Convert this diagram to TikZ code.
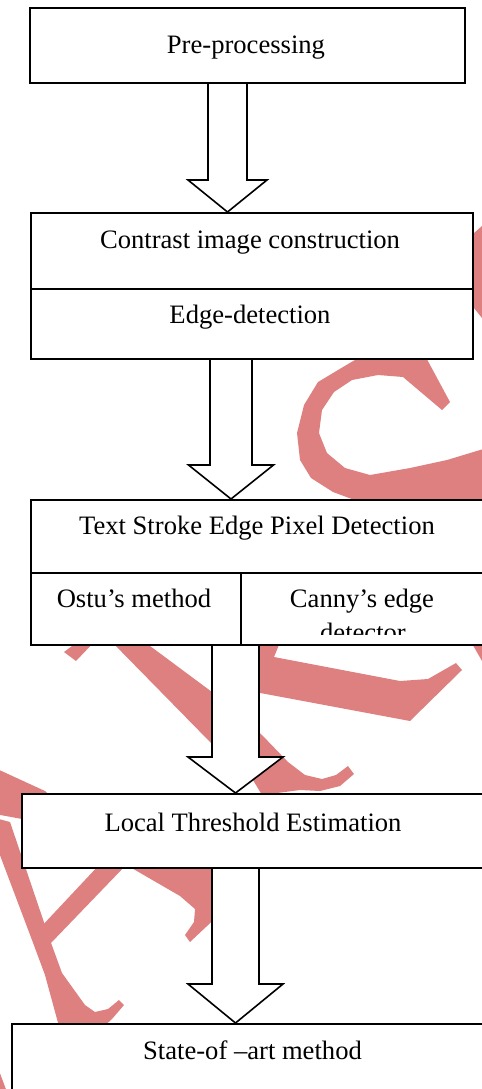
\documentclass[tikz,border=0pt]{standalone}
\usepackage{fontspec}
\setmainfont{Liberation Serif}
\usetikzlibrary{calc}
\definecolor{wmred}{RGB}{222,128,128}
\pgfdeclarelayer{marks}
\pgfdeclarelayer{arrows}
\pgfsetlayers{marks,arrows,main}
\tikzset{
  box/.style={draw, fill=white, line width=0.8pt, anchor=north west, inner sep=0pt},
  lbl/.style={anchor=base, inner sep=0pt, font=\fontsize{13.3}{17}\selectfont},
  harrow/.style={draw, fill=white, line width=0.8pt, line join=miter},
  wm/.style={fill=wmred}
}
\newcommand{\hollowarrow}[5]{%
  \draw[harrow] let \p1=(#1), \p2=(#2) in
    (\x1-#3,\y1) -- (\x1-#3,\y2+#5) -- (\x2-#4,\y2+#5) -- (\x2,\y2)
    -- (\x2+#4,\y2+#5) -- (\x1+#3,\y2+#5) -- (\x1+#3,\y1);}
\begin{document}
\begin{tikzpicture}[x=0.5pt, y=-0.5pt]
				\useasboundingbox (0,0) rectangle (482,1089);
				\clip (0,0) rectangle (482,1089);
				\begin{pgfonlayer}{marks}
				\begin{scope}
				\clip (0,0) rectangle (482,1089);
				\fill[wm] (466,240) -- (482,226) -- (482,318) -- (466,298) -- cycle;
				\fill[wm] (372,350) -- (343,367) -- (318,382) -- (304,405) -- (297,433) -- (300,460) -- (311,478) -- (333,492) -- (360,502) -- (490,510) -- (490,447) -- (447,460) -- (410,468) -- (370,475) -- (345,468) -- (327,453) -- (319,433) -- (322,410) -- (334,392) -- (352,380) -- (378,375) -- (403,377) -- (442,410) -- (450,402) -- (422,350) -- cycle;
				\fill[wm] (110,640) -- (142,640) -- (212,692) -- (262,735) -- (288,762) -- (305,775) -- (322,779) -- (336,775) -- (348,766) -- (354,774) -- (340,786) -- (320,791) -- (300,790) -- (262,795) -- (250,775) -- (212,744) -- cycle;
				\fill[wm] (64,652) -- (76,661) -- (96,640) -- (80,640) -- cycle;
				\fill[wm] (255,640) -- (281,640) -- (274,657) -- (400,681) -- (428,679) -- (456,663) -- (462,670) -- (410,721) -- (255,692) -- cycle;
				\fill[wm] (470,640) -- (490,640) -- (490,675) -- cycle;
				\fill[wm] (-5,768) -- (45,791) -- (123,863) -- (180,896) -- (195,909) -- (194,922) -- (185,935) -- (190,942) -- (240,895) -- (220,860) -- (60,826) -- (-5,814) -- cycle;
				\fill[wm] (-5,818) -- (10,822) -- (50,940) -- (62,973) -- (85,1005) -- (95,1012) -- (108,1009) -- (119,1000) -- (124,1005) -- (112,1019) -- (100,1030) -- (60,1030) -- (45,975) -- (32,940) -- (-5,842) -- cycle;
				\fill[wm] (40,928) -- (100,864) -- (127,864) -- (50,944) -- cycle;
				\fill[wm] (-2,1068) -- (7,1092) -- (-2,1092) -- cycle;
				\end{scope}
				\end{pgfonlayer}
				\node[box, minimum width=217.5pt, minimum height=37.5pt] (pre) at (29,7) {};
				\node[box, minimum width=221pt, minimum height=38pt] (contrast) at (30,212) {};
				\node[box, minimum width=221pt, minimum height=35pt] (edge) at (30,288) {};
				\node[box, minimum width=235pt, minimum height=36.5pt] (stroke) at (30,499) {};
				\node[box, minimum width=105pt, minimum height=36pt] (ostu) at (30,572) {};
				\node[box, minimum width=130pt, minimum height=36pt] (canny) at (240,572) {};
				\node[box, minimum width=240pt, minimum height=37pt] (thresh) at (21,793) {};
				\node[box, minimum width=245pt, minimum height=45pt] (sota) at (11,1023) {};
				\coordinate (a1) at (227.5,0);
				\coordinate (a2) at (231,0);
				\coordinate (a3) at (235.5,0);
				\begin{pgfonlayer}{arrows}
				\hollowarrow{a1 |- pre.south}{a1 |- contrast.north}{9.75pt}{19.75pt}{16pt}
				\hollowarrow{a2 |- edge.south}{a2 |- stroke.north}{10.5pt}{21.25pt}{17pt}
				\hollowarrow{a3 |- ostu.south}{a3 |- thresh.north}{11.75pt}{23.75pt}{18pt}
				\hollowarrow{a3 |- thresh.south}{a3 |- sota.north}{11.75pt}{23.75pt}{19.5pt}
				\end{pgfonlayer}
				\node[lbl] (preT) at (246,53) {Pre-processing};
				\node[lbl] (contrastT) at (250,248) {Contrast image construction};
				\node[lbl] (edgeT) at (250,323) {Edge-detection};
				\node[lbl] (strokeT) at (257,534) {Text Stroke Edge Pixel Detection};
				\node[lbl] (ostuT) at (134,607) {Ostu’s method};
				\node[lbl] (cannyT) at (362,607) {Canny’s edge};
				\begin{scope}
				\clip (240,572) rectangle (500,634);
				\node[lbl] (cannyU) at (363,641) {detector};
				\end{scope}
				\node[lbl] (threshT) at (253,831) {Local Threshold Estimation};
				\node[lbl] (sotaT) at (252.5,1059) {State-of –art method};
				\end{tikzpicture}
\end{document}
